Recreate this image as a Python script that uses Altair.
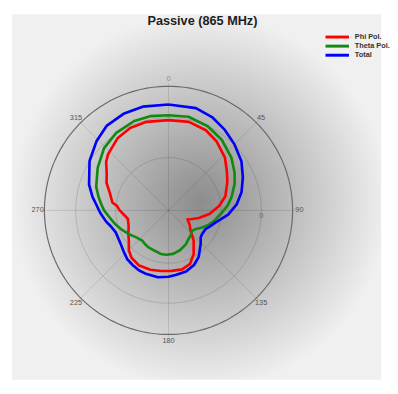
import altair as alt
import pandas as pd
import numpy as np

# ---------------- data ----------------
title_text = "Passive (865 MHz)"
series_names = ["Phi Pol.", "Theta Pol.", "Total"]
series_colors = ["#ff0000", "#128a12", "#0000ff"]

phi_angle = [0, 13, 25, 35, 47, 56, 64, 76, 85, 95, 104, 110, 115.5, 124, 133, 140, 150, 158, 167,
             177, 187, 197, 208, 218, 225, 232, 240, 248, 258, 263, 270, 275, 278, 287, 294, 300,
             308, 313, 325, 335, 346, 360]
phi_r = [92.3, 93, 90.5, 86, 79, 72, 67, 60, 52, 42, 32, 26, 21.5, 26, 31, 40, 51.5, 59, 62,
         62, 62.5, 63.5, 64, 61.5, 57.5, 51.5, 47.5, 44, 42.5, 45, 50, 53, 58, 63, 69.5, 73,
         81, 84.5, 90.5, 93, 93.4, 92.3]

theta_angle = [0, 12, 25, 37, 50, 60, 68, 78, 85, 92, 103, 110, 117, 124, 131, 138, 146, 153, 164,
               174, 183, 190, 201, 209, 215, 221, 230, 239, 248, 255, 262, 270, 275, 281, 288,
               301, 314, 326, 339, 349, 360]
theta_r = [97.3, 98, 95, 90.5, 84, 78, 73, 66, 61, 55, 48, 43.5, 38.6, 34, 32, 34, 36, 39, 42.5,
           44.8, 45.5, 45.3, 43.5, 43, 42, 41, 43, 47.3, 52, 56, 60, 66, 69, 73, 77.8,
           84.6, 91.7, 95.7, 98, 98.2, 97.3]

total_angle = [0, 15, 25, 35, 45, 56, 66, 76, 85, 94, 105, 112, 117, 125, 130, 136, 147, 155, 164,
               173, 180, 189, 199, 206, 213, 220, 227, 235, 247, 254, 260, 268, 275, 280, 288,
               302, 314, 324, 335, 346, 360]
total_r = [108.3, 108.3, 105.4, 100.5, 95.5, 90, 83.3, 77, 70, 61.2, 49.3, 45, 42.4, 42, 43, 47.4,
           56.8, 61.7, 65.1, 66.4, 68, 69.3, 69, 68.5, 67, 65.5, 62.5, 59.8, 58.5, 61, 65, 70,
           74.5, 79, 85.5, 95.3, 102.3, 107.3, 109, 109.4, 108.3]

ring_values = [54, 95, 127]          # grid circles (outer one is the frame)
spoke_angles = [0, 45, 90, 135, 180, 225, 270, 315]
angle_labels = ["0", "45", "90", "135", "180", "225", "270", "315"]
radial_label = "0"

# ---------------- layout ----------------
W, H = 382, 376
CX, CY = 164.3, 202.7
xs = alt.Scale(domain=[-CX, W - CX], nice=False, zero=False)
ys = alt.Scale(domain=[-(H - CY), CY], nice=False, zero=False)
FONT = "Liberation Sans"

# traces
rows = []
for name, angs, rs in [(series_names[0], phi_angle, phi_r),
                       (series_names[1], theta_angle, theta_r),
                       (series_names[2], total_angle, total_r)]:
    for i, (a, r) in enumerate(zip(angs, rs)):
        rows.append({"series": name, "angle": a, "r": r, "idx": i})
trace_df = pd.DataFrame(rows)

# grid rings
ring_rows = []
for k, rv in enumerate(ring_values):
    for j, a in enumerate(np.arange(0, 361, 2)):
        ring_rows.append({"ring": k, "angle": float(a), "r": rv, "idx": j,
                          "outer": rv == max(ring_values)})
ring_df = pd.DataFrame(ring_rows)

spoke_df = pd.DataFrame({"angle": spoke_angles, "r": [130] * len(spoke_angles)})
label_df = pd.DataFrame({"angle": spoke_angles, "label": angle_labels, "r": [134] * len(spoke_angles),
                         "col": ["#6f8fb0"] + ["#555555"] * (len(spoke_angles) - 1)})

bg_df = pd.DataFrame({"x": [4 - CX], "x2": [W - CX], "y": [CY - 2], "y2": [-(H - CY)]})

X = lambda f: alt.X(f, type="quantitative", scale=xs, axis=None)
Y = lambda f: alt.Y(f, type="quantitative", scale=ys, axis=None)

background = alt.Chart(bg_df).mark_rect(
    fill={"gradient": "radial",
          "x1": 0.5106, "y1": 0.513, "r1": 0,
          "x2": 0.5106, "y2": 0.513, "r2": 0.5106,
          "stops": [{"offset": 0, "color": "#8c8c8c"},
                    {"offset": 1, "color": "#f0f0f0"}]}
).encode(x=X("x"), x2="x2", y=Y("y"), y2="y2")

polar = "datum.r * sin(datum.angle * PI / 180)", "datum.r * cos(datum.angle * PI / 180)"

rings_inner = alt.Chart(ring_df).transform_filter("!datum.outer").transform_calculate(
    px=polar[0], py=polar[1]
).mark_line(stroke="#000000", strokeOpacity=0.17, strokeWidth=0.8).encode(
    x=X("px"), y=Y("py"), detail="ring:N", order="idx:Q")

ring_outer = alt.Chart(ring_df).transform_filter("datum.outer").transform_calculate(
    px=polar[0], py=polar[1]
).mark_line(stroke="#6a6a6a", strokeWidth=1.2).encode(
    x=X("px"), y=Y("py"), detail="ring:N", order="idx:Q")

spokes = alt.Chart(spoke_df).transform_calculate(
    px=polar[0], py=polar[1], zx="0", zy="0"
).mark_rule(stroke="#000000", strokeOpacity=0.15, strokeWidth=0.8).encode(
    x=X("zx"), y=Y("zy"), x2="px", y2="py")

labels = alt.Chart(label_df).transform_calculate(
    px=polar[0], py=polar[1]
).mark_text(font=FONT, fontSize=7.5, baseline="middle", align="center").encode(
    x=X("px"), y=Y("py"), text="label:N", color=alt.Color("col:N", scale=None))

rlabel = alt.Chart(pd.DataFrame({"angle": [90], "r": [ring_values[1]], "label": [radial_label]})).transform_calculate(
    px=polar[0], py=polar[1]
).mark_text(font=FONT, fontSize=7.5, baseline="top", align="center", dy=2, color="#666666").encode(
    x=X("px"), y=Y("py"), text="label:N")

traces = alt.Chart(trace_df).transform_calculate(
    px=polar[0], py=polar[1]
).mark_line(strokeWidth=2.7, strokeJoin="round").encode(
    x=X("px"), y=Y("py"),
    color=alt.Color("series:N", scale=alt.Scale(domain=series_names, range=series_colors), legend=None),
    detail="series:N", order="idx:Q")

title = alt.Chart(pd.DataFrame({"t": [title_text]})).mark_text(
    font=FONT, fontSize=13, fontWeight="bold", color="#1e1e1e", baseline="middle", align="center"
).encode(x=alt.value(199), y=alt.value(9), text="t:N")

legend_layers = []
for i, (name, col) in enumerate(zip(series_names, series_colors)):
    ly = 25.3 + 9.3 * i
    d = pd.DataFrame({"name": [name]})
    legend_layers.append(alt.Chart(d).mark_rule(stroke=col, strokeWidth=3).encode(
        x=alt.value(325), x2=alt.value(349), y=alt.value(ly)))
    legend_layers.append(alt.Chart(d).mark_text(
        font=FONT, fontSize=7.5, fontWeight="bold", color="#333333", align="left", baseline="middle"
    ).encode(x=alt.value(355), y=alt.value(ly), text="name:N"))

chart = alt.layer(background, rings_inner, spokes, ring_outer, labels, rlabel, traces, title,
                  *legend_layers).properties(
    width=W, height=H, padding=0, background="white"
).configure_view(stroke=None)

chart.save("out.html", embed_options={"renderer": "svg", "actions": False})
